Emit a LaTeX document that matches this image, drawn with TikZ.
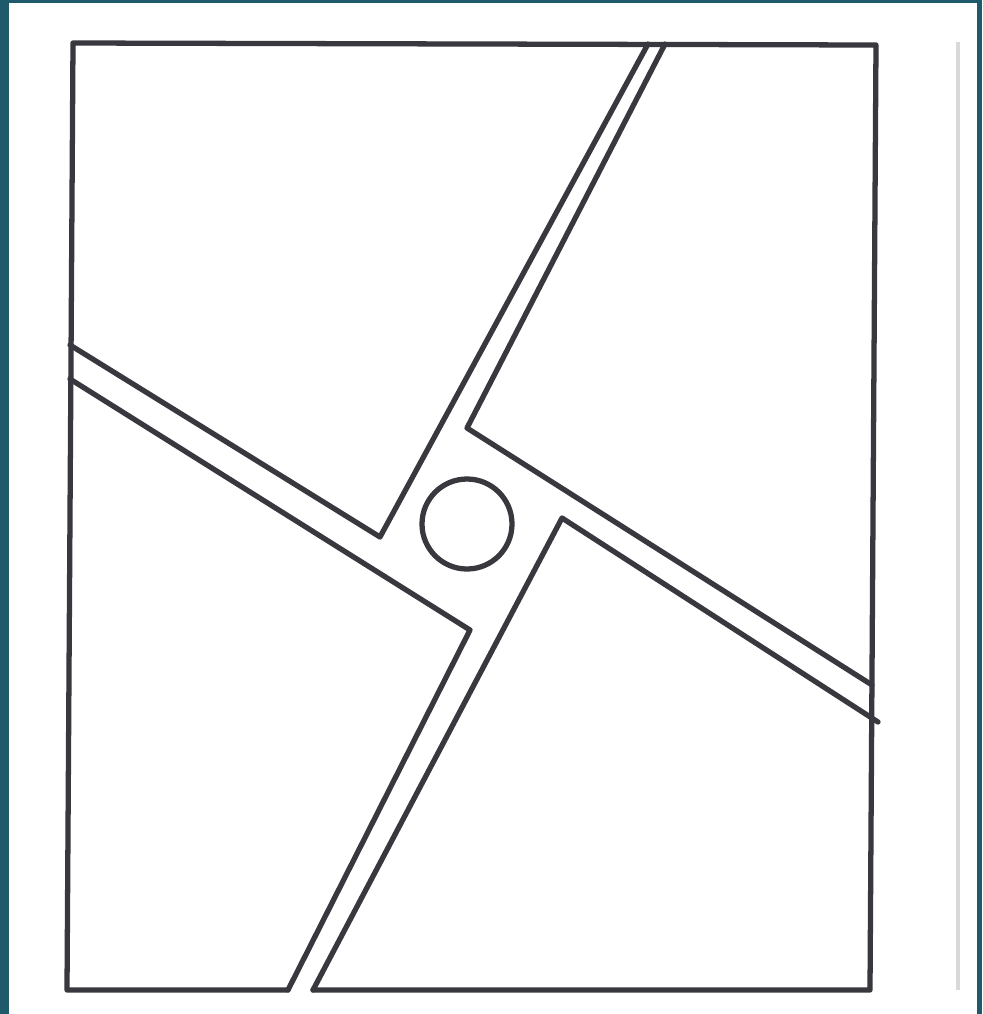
\documentclass[tikz,border=0pt]{standalone}
\usepackage{tikz}
\usetikzlibrary{calc}

\definecolor{frameteal}{HTML}{1F5A6A}
\definecolor{ink}{HTML}{38383E}

\begin{document}
\begin{tikzpicture}[
        % one unit = one pixel of the reference, y pointing down
        x=0.2mm, y=-0.2mm,
        % Define styles for the plan
        wall/.style={draw=ink, line width=3pt, line join=round, line cap=round},
        hub/.style={draw=ink, line width=3pt},
        ghost/.style={draw=gray!30, line width=2.4pt}
    ]

    % Background and frame
    \fill[frameteal] (0,0) rectangle (982,1014);
    \fill[white] (8.5,3) rectangle (977,1014);
    \useasboundingbox (0,0) rectangle (982,1014);

    % Outer corners of the square
    \coordinate (tl) at (73,43);
    \coordinate (tr) at (876,45);
    \coordinate (br) at (870,990);
    \coordinate (bl) at (67,990);

    % Where the strips meet the outer edges
    \coordinate (topA) at (648,44);
    \coordinate (topB) at (665,44);
    \coordinate (rightA) at (872,685);
    \coordinate (rightB) at (878,722);
    \coordinate (botA) at (288,990);
    \coordinate (botB) at (313,990);
    \coordinate (leftA) at (70,345);
    \coordinate (leftB) at (70,379);

    % Inner corners round the hub
    \coordinate (hubW) at (380,537);
    \coordinate (hubN) at (467,428);
    \coordinate (hubE) at (562,518);
    \coordinate (hubS) at (470,630);

    % Outer square, open where the bottom strip leaves it
    \draw[wall] (botA) -- (bl) -- (tl) -- (tr) -- (br) -- (botB);

    % Double lines of the four strips
    \draw[wall] (topA) -- (hubW) -- (leftA);
    \draw[wall] (topB) -- (hubN) -- (rightA);
    \draw[wall] (rightB) -- (hubE) -- (botB);
    \draw[wall] (leftB) -- (hubS) -- (botA);

    % Round centre
    \draw[hub] (467,524) circle [radius=45];

    % Edge of the neighbouring sheet
    \draw[ghost] (958,42) -- (958,990);

\end{tikzpicture}
\end{document}
